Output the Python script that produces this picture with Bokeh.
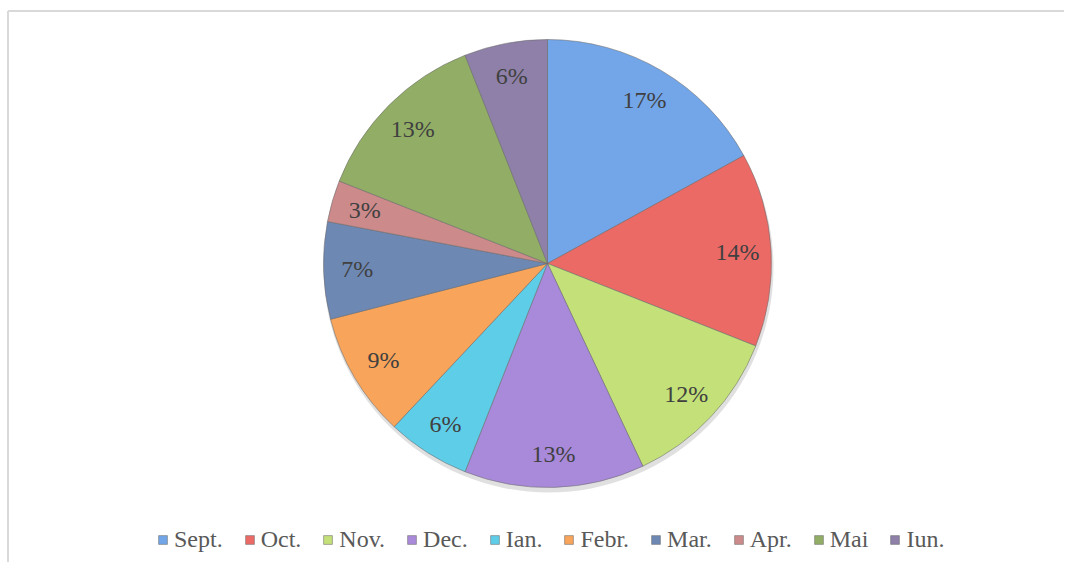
import numpy as np
from bokeh.plotting import figure
from bokeh.models import ColumnDataSource, Range1d, Legend, LegendItem
from bokeh.core.properties import value
from bokeh.embed import file_html
from bokeh.resources import INLINE

# ---- data ----
months = ["Sept.", "Oct.", "Nov.", "Dec.", "Ian.", "Febr.", "Mar.", "Apr.", "Mai", "Iun."]
shares = [17, 14, 12, 13, 6, 9, 7, 3, 13, 6]
labels = ["17%", "14%", "12%", "13%", "6%", "9%", "7%", "3%", "13%", "6%"]
colors = ["#72A6E8", "#EC6A66", "#C3E178", "#A98ADA", "#5ECDE8",
          "#F8A45A", "#6E88B4", "#CC8A8A", "#92AE66", "#8E80A8"]

W, H = 1064, 562
CX, CY, R = 547, 299, 224

vals = np.array(shares, dtype=float)
frac = vals / vals.sum()
cum_end = np.cumsum(frac)
cum_start = cum_end - frac
start_angle = np.pi / 2 - cum_end * 2 * np.pi
end_angle = np.pi / 2 - cum_start * 2 * np.pi
mid = (start_angle + end_angle) / 2

src = ColumnDataSource(dict(
    month=months, share=shares, label=labels, color=colors,
    start=start_angle, end=end_angle,
    lx=CX + 0.85 * R * np.cos(mid), ly=CY + 0.85 * R * np.sin(mid),
))

p = figure(width=W, height=H, output_backend="svg", toolbar_location=None,
           x_range=Range1d(0, W), y_range=Range1d(0, H), min_border=0,
           outline_line_color=None, background_fill_color="white",
           border_fill_color="white")
p.axis.visible = False
p.grid.visible = False

# chart area frame (top & left edges visible)
p.segment(x0=[7.5, 7.5], y0=[H - 10.5, H - 10.5], x1=[W, 7.5], y1=[H - 10.5, 0],
          line_color="#D9D9D9", line_width=2)

# soft shadow
p.circle(x=CX + 1, y=CY - 4, radius=R + 1, fill_color="#000000", fill_alpha=0.12,
         line_color=None)

wedges = p.wedge(x=CX, y=CY, radius=R, start_angle="start", end_angle="end",
                 direction="anticlock", fill_color="color", line_color="#6B6B6B",
                 line_alpha=0.55, line_width=1, source=src)

p.text(x="lx", y="ly", text="label", source=src, text_align="center",
       text_baseline="middle", text_font=value("Liberation Serif"),
       text_font_size="24px", text_color="#404040")

items = [LegendItem(label=m, renderers=[wedges], index=i) for i, m in enumerate(months)]
legend = Legend(items=items, orientation="horizontal", location=(157, 9),
                glyph_width=11, glyph_height=11, label_standoff=6, spacing=21,
                padding=0, margin=0, border_line_alpha=0, background_fill_alpha=0,
                label_text_font="Liberation Serif", label_text_font_size="24px",
                label_text_color="#595959", label_height=24)
p.add_layout(legend)

open("out.html", "w").write(file_html(p, INLINE))
